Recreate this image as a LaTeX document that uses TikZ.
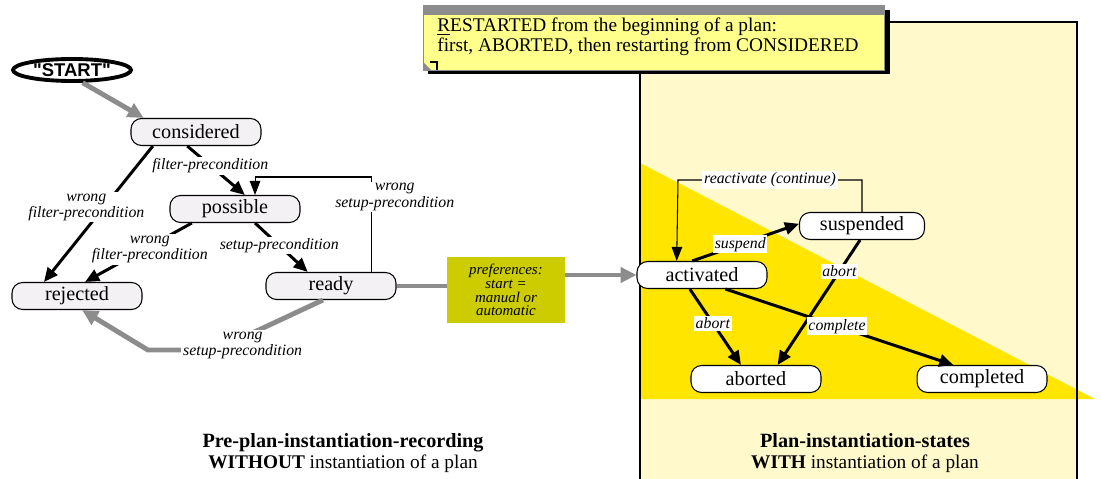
\documentclass[tikz,border=0pt]{standalone}
\usepackage{fontspec}
\setmainfont{Liberation Serif}
\newfontfamily\startfont{Liberation Sans}
\usetikzlibrary{arrows.meta,shapes.geometric}
\definecolor{stategray}{HTML}{F4F1F4}
\definecolor{panelyellow}{HTML}{FFF9CC}
\definecolor{triyellow}{HTML}{FFE500}
\definecolor{prefolive}{HTML}{CCCC00}
\definecolor{noteyellow}{HTML}{FFFF8C}
\definecolor{arrowgray}{HTML}{8C8C8C}
\tikzset{
  state/.style={draw, line width=0.6pt, rounded corners=6pt, fill=stategray, minimum width=2.6cm, minimum height=0.54cm, inner sep=1pt, font=\fontsize{11.5}{12}\selectfont},
  planstate/.style={state, fill=white},
  cond/.style={fill=white, inner sep=1pt, align=center, font=\fontsize{9}{8}\selectfont\itshape},
  trans/.style={line width=1.7pt, -{Triangle[length=8pt,width=7pt]}},
  thintrans/.style={line width=0.6pt, -{Triangle[length=8pt,width=6pt]}},
  graytrans/.style={draw=arrowgray, line width=2.8pt, -{Triangle[length=9pt,width=8.5pt]}},
  caption/.style={align=center, font=\fontsize{11}{11.5}\selectfont}
}
\begin{document}
\begin{tikzpicture}[x=0.02cm, y=-0.02cm]
    \useasboundingbox (0,0) rectangle (1101,479);
    \fill[panelyellow] (640,479) -- (640,22) -- (1077,22) -- (1077,479);
    \fill[triyellow] (640,163) -- (640,399) -- (1095,399) -- cycle;
    \draw[line width=0.6pt] (640,479) -- (640,22) -- (1077,22) -- (1077,479);

    \fill (428,10) rectangle (890,74);
    \filldraw[fill=noteyellow, draw=arrowgray] (423,5) rectangle (884,70);
    \fill[arrowgray] (423,5) rectangle (884,15);
    \fill[arrowgray] (423,62) -- (431,70) -- (423,70) -- cycle;
    \draw[line width=0.8pt] (430,62) -- (437,62) -- (437,70);
    \node[anchor=west, align=left, inner sep=0pt, font=\fontsize{11}{10}\selectfont] (note) at (437,37) {\underline{R}ESTARTED from the beginning of a plan:\\first, ABORTED, then restarting from CONSIDERED};

    \node[ellipse, draw, line width=2.2pt, minimum width=2.36cm, minimum height=0.44cm, inner sep=0pt, font=\startfont\bfseries\fontsize{10.5}{11}\selectfont] (start) at (72,70) {"START"};
    \node[state] (considered) at (196,132) {considered};
    \node[state] (possible) at (235,209) {possible};
    \node[state] (rejected) at (77,296) {rejected};
    \node[state] (ready) at (331,286) {ready};
    \node[fill=prefolive, minimum width=2.36cm, minimum height=1.32cm, align=center, font=\fontsize{8.5}{7.8}\selectfont\itshape] (prefs) at (506,290) {preferences:\\start =\\manual or\\automatic};

    \node[planstate] (activated) at (702,275) {activated};
    \node[planstate, minimum width=2.5cm] (suspended) at (862,226) {suspended};
    \node[planstate] (aborted) at (756,379) {aborted};
    \node[planstate] (completed) at (982,379) {completed};

    \draw[graytrans] (start.-50) -- (considered.165);
    \draw[trans] (considered.-122) -- node[cond, pos=0.4] {filter-precondition} (possible.55);
    \draw[trans] (considered.-162) -- node[cond, pos=0.45, xshift=-0.35cm] {wrong\\filter-precondition} (rejected.157);
    \draw[trans] (possible.-162) -- node[cond, pos=0.45, xshift=0.12cm] {wrong\\filter-precondition} (rejected.60);
    \draw[trans] (possible.-35) -- node[cond, pos=0.46] {setup-precondition} (ready.149);
    \draw[thintrans] (ready.19) -- node[cond, pos=0.79, xshift=0.46cm] {wrong\\setup-precondition} ++(0,-95) -| (possible.35);
    \draw[graytrans] (ready.-120) -- node[cond, pos=0.75, yshift=-0.16cm] {wrong\\setup-precondition} ++(-107,50) -- ++(-68,0) -- (rejected.-70);
    \draw[draw=arrowgray, line width=2.4pt] (ready.east) -- (prefs.west |- ready.east);
    \draw[graytrans] (prefs.east |- activated.west) -- (activated.west);

    \draw[trans] (activated.125) -- node[cond, pos=0.45] {suspend} (suspended.178);
    \draw[thintrans] (suspended.north) -- ++(0,-32) -- node[cond] {reactivate (continue)} ++(-184,0) -- (activated.151);
    \draw[trans] (activated.-131) -- node[cond, pos=0.45] {abort} (aborted.137);
    \draw[trans] (suspended.-98) -- node[cond, pos=0.25] {abort} (aborted.33);
    \draw[trans] (activated.-31) -- node[cond, pos=0.49] {complete} (completed.154);

    \node[caption] (leftcap) at (343,453) {\textbf{\fontsize{11.5}{11.5}\selectfont Pre-plan-instantiation-recording}\\\textbf{WITHOUT} instantiation of a plan};
    \node[caption] (rightcap) at (865,453) {\textbf{\fontsize{11.5}{11.5}\selectfont Plan-instantiation-states}\\\textbf{WITH} instantiation of a plan};
\end{tikzpicture}
\end{document}
